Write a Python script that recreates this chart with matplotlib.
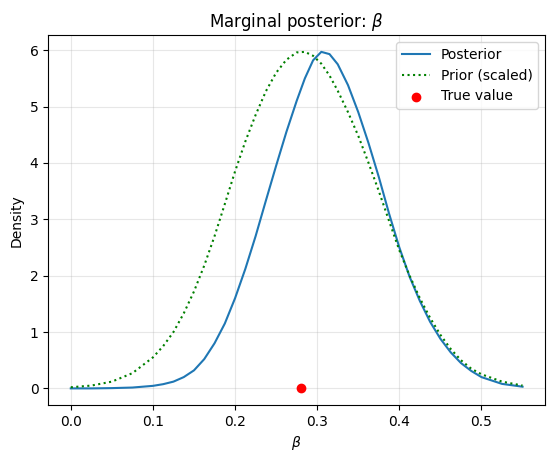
import matplotlib
matplotlib.use('Agg')
import matplotlib.pyplot as plt

# values
beta_x = [0.0, 0.025, 0.05, 0.075, 0.1, 0.1125, 0.125, 0.1375, 0.15, 0.1625, 0.175,
          0.1875, 0.2, 0.2125, 0.225, 0.2375, 0.25, 0.2625, 0.275, 0.285, 0.295,
          0.305, 0.315, 0.325, 0.3375, 0.35, 0.3625, 0.375, 0.3875, 0.4, 0.4125,
          0.425, 0.4375, 0.45, 0.4625, 0.475, 0.4875, 0.5, 0.525, 0.55]
posterior = [0.0, 0.0, 0.005, 0.015, 0.045, 0.075, 0.12, 0.2, 0.32, 0.52, 0.8,
             1.15, 1.6, 2.12, 2.7, 3.33, 3.95, 4.55, 5.1, 5.5, 5.82,
             5.97, 5.93, 5.75, 5.38, 4.9, 4.35, 3.75, 3.1, 2.5, 1.98,
             1.55, 1.18, 0.88, 0.64, 0.45, 0.31, 0.2, 0.08, 0.03]
prior = [0.02, 0.05, 0.12, 0.27, 0.55, 0.75, 1.0, 1.33, 1.72, 2.18, 2.7,
         3.27, 3.85, 4.38, 4.85, 5.27, 5.6, 5.83, 5.96, 5.97, 5.9,
         5.76, 5.55, 5.28, 4.9, 4.48, 4.0, 3.5, 2.97, 2.45, 2.0,
         1.6, 1.25, 0.95, 0.7, 0.5, 0.35, 0.25, 0.12, 0.05]
true_beta = 0.28

fig, ax = plt.subplots(figsize=(5.54, 4.61), dpi=100)
ax.plot(beta_x, posterior, color='#1f77b4', lw=1.5, label='Posterior')
ax.plot(beta_x, prior, color='green', ls=':', lw=1.5, label='Prior (scaled)')
ax.scatter([true_beta], [0], color='red', zorder=5, label='True value')
ax.set_xlabel(r'$\beta$')
ax.set_ylabel('Density')
ax.set_title(r'Marginal posterior: $\beta$')
ax.grid(alpha=0.3)
ax.legend(loc='upper right')
fig.subplots_adjust(left=0.087, right=0.984, top=0.924, bottom=0.121)
fig.savefig('out.png', dpi=100)
